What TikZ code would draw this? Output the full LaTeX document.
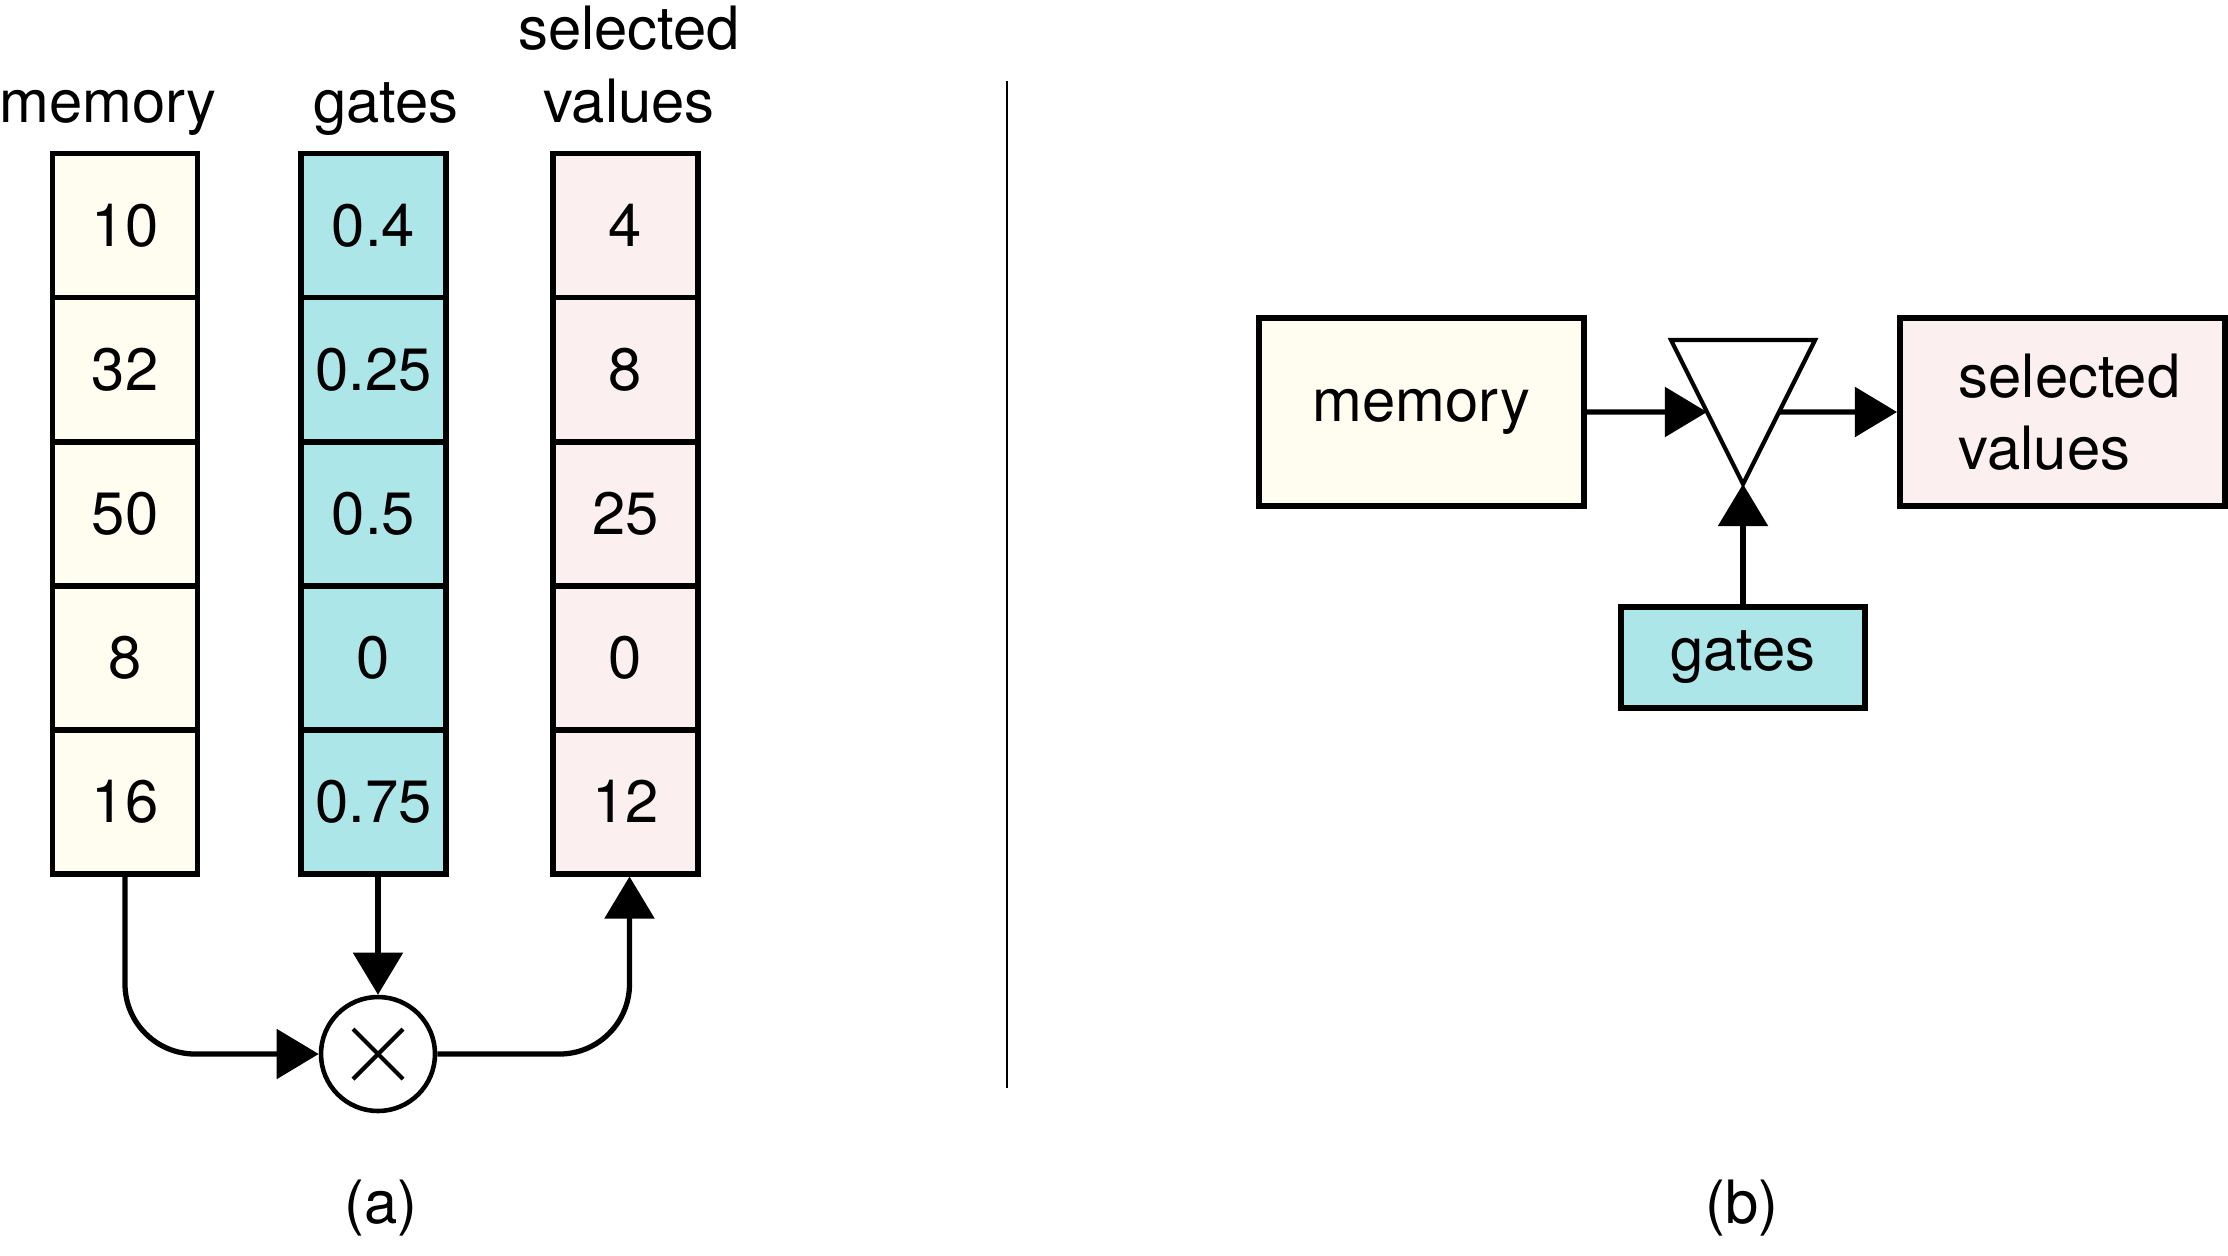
\documentclass[tikz,border=0pt]{standalone}
\usepackage{fontspec}
\setmainfont{TeX Gyre Heros}
\usepackage{tikz}
\usetikzlibrary{positioning,shapes,arrows.meta,calc}

\definecolor{memfill}{HTML}{FFFDEF}
\definecolor{gatefill}{HTML}{ADE6E8}
\definecolor{selfill}{HTML}{FCEFEF}

\begin{document}
\begin{tikzpicture}[every node/.style={font=\fontsize{17}{20.6}\selectfont},
        cell/.style={draw,line width=1.7pt,minimum width=1.45cm,minimum height=1.44cm,inner sep=0pt},
        blk/.style={draw,line width=1.7pt,inner sep=0pt},
        conn/.style={line width=1.5pt,-{Triangle[length=12pt,width=14pt]}}]
        \useasboundingbox (0,0) rectangle (22.28,-12.55);

        % (a) columns
        \foreach \a / \b / \c [count=\i] in {10/0.4/4,32/0.25/8,50/0.5/25,8/0/0,16/0.75/12} {
            \node[cell,fill=memfill] (m\i) at (1.25,{-2.255-1.44*(\i-1)}) {\a};
            \node[cell,fill=gatefill] (g\i) at (3.735,{-2.255-1.44*(\i-1)}) {\b};
            \node[cell,fill=selfill] (s\i) at (6.255,{-2.255-1.44*(\i-1)}) {\c};
        }
        \node[anchor=base] (mlbl) at (1.08,-1.22) {memory};
        \node[anchor=base] (glbl) at (3.86,-1.22) {gates};
        \node[anchor=base,align=center] (slbl) at (6.29,-1.22) {selected\\values};

        \node[circle,draw,line width=1.3pt,minimum size=1.14cm] (mul) at (3.78,-10.54) {};
        \draw[line width=1.2pt] ($(mul)+(-0.25,0.25)$) -- ($(mul)+(0.25,-0.25)$)
            ($(mul)+(-0.25,-0.25)$) -- ($(mul)+(0.25,0.25)$);

        \draw[conn,rounded corners=0.7cm] (m5.south) |- (mul.west);
        \draw[conn] (g5.south -| mul.north) -- (mul.north);
        \draw[conn,rounded corners=0.7cm] (mul.east) -| ($(s5.south)+(0.04,0)$);

        \node (capa) at (3.81,-12.08) {(a)};

        % divider
        \coordinate (dtop) at (10.07,-0.81);
        \coordinate (dbot) at (10.07,-10.88);
        \draw[line width=0.7pt] (dtop) -- (dbot);

        % (b) gated memory
        \node[blk,fill=memfill,minimum width=3.25cm,minimum height=1.88cm] (bmem) at (14.215,-4.12) {memory};
        \node[blk,fill=selfill,minimum width=3.25cm,minimum height=1.88cm,align=left] (bsel) at (20.625,-4.12) {\hspace*{0.14cm}selected\\\hspace*{0.14cm}values};
        \node[blk,fill=gatefill,minimum width=2.44cm,minimum height=1.01cm] (bgat) at (17.43,-6.575) {gates};

        \coordinate (tl) at (16.71,-3.40);
        \coordinate (tr) at (18.15,-3.40);
        \coordinate (apex) at (17.43,-4.84);
        \draw[line width=1.2pt] (tl) -- (tr) -- (apex) -- cycle;

        \draw[conn] (bmem.east) -- ($(tl)!0.5!(apex)$);
        \draw[conn] ($(tr)!0.5!(apex)$) -- (bsel.west);
        \draw[conn] (bgat.north) -- (apex);

        \node (capb) at (17.42,-12.08) {(b)};
    \end{tikzpicture}
\end{document}
